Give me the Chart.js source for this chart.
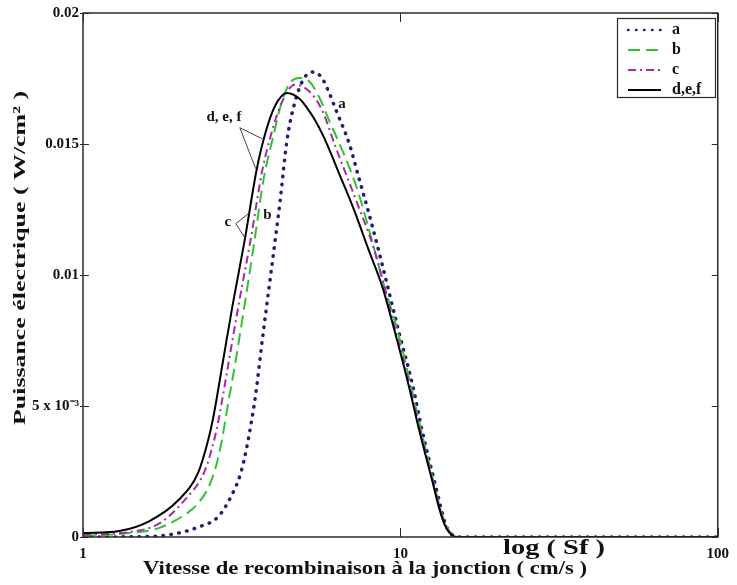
<!DOCTYPE html>
<html>
<head>
<meta charset="utf-8">
<script src="https://cdn.jsdelivr.net/npm/chart.js@4.4.0/dist/chart.umd.min.js"></script>
<style>
html, body { margin: 0; padding: 0; background: #fff; }
#wrap { width: 737px; height: 585px; }
</style>
</head>
<body>
<div id="wrap"><canvas id="chart" width="737" height="585"></canvas></div>
<script>
// values (x: Sf, y: W/cm2)
var xA = [1.00, 1.40, 1.73, 2.00, 2.31, 2.66, 2.92, 3.14, 3.30, 3.50, 3.67, 3.86, 4.03, 4.18, 4.39, 4.62, 4.96, 5.37, 5.73, 5.93, 6.28, 6.90, 7.41, 8.07, 8.86, 9.86, 10.97, 11.70, 12.94, 13.41, 13.90, 14.60, 15.40, 100];
var yA = [0, 0.00001, 0.00004, 0.00015, 0.00038, 0.00076, 0.00152, 0.00244, 0.00358, 0.00545, 0.00750, 0.00956, 0.01131, 0.01284, 0.01512, 0.01646, 0.01749, 0.01775, 0.01741, 0.01703, 0.01627, 0.01501, 0.01368, 0.01208, 0.01017, 0.00789, 0.00571, 0.00408, 0.00190, 0.00114, 0.00046, 0.00008, 0, 0];

var xB = [1.00, 1.40, 1.73, 2.15, 2.31, 2.48, 2.63, 2.74, 2.86, 3.01, 3.18, 3.47, 3.70, 3.98, 4.24, 4.49, 4.79, 5.14, 5.52, 6.06, 6.37, 7.25, 7.90, 8.79, 9.79, 10.82, 11.62, 12.84, 13.31, 13.90, 14.60, 15.40, 100];
var yB = [0.00004, 0.00015, 0.00034, 0.00095, 0.00130, 0.00187, 0.00274, 0.00370, 0.00503, 0.00655, 0.00834, 0.01131, 0.01360, 0.01531, 0.01665, 0.01733, 0.01752, 0.01741, 0.01684, 0.01570, 0.01512, 0.01341, 0.01189, 0.00979, 0.00789, 0.00571, 0.00408, 0.00190, 0.00114, 0.00046, 0.00008, 0, 0];

var xC = [1.00, 1.40, 1.73, 2.09, 2.41, 2.59, 2.68, 2.88, 3.09, 3.37, 3.67, 3.92, 4.21, 4.65, 5.14, 5.64, 6.28, 7.36, 8.25, 9.65, 10.74, 11.54, 12.80, 13.28, 13.85, 14.55, 15.35, 100];
var yC = [0.00008, 0.00019, 0.00050, 0.00141, 0.00248, 0.00370, 0.00453, 0.00670, 0.00884, 0.01131, 0.01398, 0.01539, 0.01653, 0.01726, 0.01703, 0.01634, 0.01482, 0.01265, 0.01101, 0.00789, 0.00571, 0.00408, 0.00190, 0.00114, 0.00046, 0.00008, 0, 0];

var xDEF = [1.00, 1.30, 1.62, 2.00, 2.31, 2.48, 2.57, 2.76, 2.96, 3.23, 3.52, 3.75, 4.03, 4.39, 4.82, 5.05, 5.33, 5.73, 6.51, 7.10, 7.96, 8.79, 9.58, 10.66, 11.46, 12.75, 13.22, 13.80, 14.50, 15.30, 100];
var yDEF = [0.00015, 0.00023, 0.00061, 0.00141, 0.00248, 0.00370, 0.00453, 0.00670, 0.00884, 0.01131, 0.01398, 0.01539, 0.01646, 0.01695, 0.01672, 0.01642, 0.01600, 0.01528, 0.01368, 0.01257, 0.01093, 0.00952, 0.00789, 0.00571, 0.00408, 0.00190, 0.00114, 0.00046, 0.00008, 0, 0];

var xTicks = [1, 10, 100];
var yTicks = [0, 0.005, 0.01, 0.015, 0.02];
var yTickLabels = ["0", "5 x 10\u207B\u00B3", "0.01", "0.015", "0.02"];

// curve labels with their pointer lines, in data units
var notes = [
    { text: "d, e, f", x: 2.78, y: 0.01604, from: [3.12, 0.01562], to: [[3.67, 0.0152], [3.50, 0.01406]] },
    { text: "c", x: 2.86, y: 0.0120, from: [3.03, 0.01196], to: [[3.35, 0.01238], [3.25, 0.01139]] },
    { text: "b", x: 3.81, y: 0.01227 },
    { text: "a", x: 6.55, y: 0.01653 }
];

var serif = "'Liberation Serif', 'Times New Roman', serif";

function points(xs, ys) {
    var out = [];
    for (var i = 0; i < xs.length; i++) {
        out.push({ x: xs[i], y: ys[i] });
    }
    return out;
}

// text stretched along its direction to match the reference width
function stretchedText(ctx, text, x, y, size, width, angle) {
    ctx.save();
    ctx.font = "bold " + size + "px " + serif;
    var w = ctx.measureText(text).width;
    ctx.translate(x, y);
    if (angle) ctx.rotate(angle);
    ctx.scale(width / w, 1);
    ctx.textAlign = "center";
    ctx.textBaseline = "middle";
    ctx.fillText(text, 0, 0);
    ctx.restore();
}

var framePlugin = {
    id: "frame",
    afterDatasetsDraw: function(chart) {
        var ctx = chart.ctx;
        var a = chart.chartArea;
        var xs = chart.scales.x, ys = chart.scales.y;
        ctx.save();
        ctx.strokeStyle = "#2b2b2b";
        ctx.lineWidth = 1.5;
        ctx.strokeRect(a.left, a.top, a.right - a.left, a.bottom - a.top);
        ctx.lineWidth = 1;
        xTicks.forEach(function(v) {
            var px = Math.round(xs.getPixelForValue(v)) + 0.5;
            ctx.beginPath();
            ctx.moveTo(px, a.bottom);
            ctx.lineTo(px, a.bottom - 9);
            ctx.moveTo(px, a.top);
            ctx.lineTo(px, a.top + 9);
            ctx.stroke();
        });
        yTicks.forEach(function(v) {
            var py = Math.round(ys.getPixelForValue(v)) + 0.5;
            ctx.beginPath();
            ctx.moveTo(a.left - 3, py);
            ctx.lineTo(a.left + 6, py);
            ctx.moveTo(a.right, py);
            ctx.lineTo(a.right - 6, py);
            ctx.stroke();
        });

        // curve labels
        ctx.fillStyle = "#111";
        ctx.strokeStyle = "#444";
        ctx.font = "bold 15px " + serif;
        ctx.textAlign = "center";
        ctx.textBaseline = "middle";
        notes.forEach(function(n) {
            ctx.fillText(n.text, xs.getPixelForValue(n.x), ys.getPixelForValue(n.y));
            if (n.from) {
                var fx = xs.getPixelForValue(n.from[0]), fy = ys.getPixelForValue(n.from[1]);
                n.to.forEach(function(t) {
                    ctx.beginPath();
                    ctx.moveTo(fx, fy);
                    ctx.lineTo(xs.getPixelForValue(t[0]), ys.getPixelForValue(t[1]));
                    ctx.stroke();
                });
            }
        });

        // legend box
        var lx = 617, ly = 18, lw = 98, lh = 79;
        ctx.fillStyle = "#fff";
        ctx.fillRect(lx, ly, lw, lh);
        ctx.strokeStyle = "#2b2b2b";
        ctx.lineWidth = 1.2;
        ctx.strokeRect(lx + 0.5, ly + 0.5, lw, lh);
        ctx.textAlign = "left";
        ctx.font = "bold 16px " + serif;
        chart.data.datasets.forEach(function(ds, i) {
            var yy = ly + 12 + i * 20;
            ctx.save();
            ctx.strokeStyle = ds.borderColor;
            ctx.lineWidth = Math.min(ds.borderWidth, 2.5);
            ctx.lineCap = ds.borderCapStyle || "butt";
            ctx.setLineDash(ds.borderDash || []);
            ctx.beginPath();
            ctx.moveTo(lx + 11, yy);
            ctx.lineTo(lx + 44, yy);
            ctx.stroke();
            ctx.restore();
            ctx.fillStyle = "#111";
            ctx.fillText(ds.label, lx + 55, yy);
        });

        // axis titles
        ctx.fillStyle = "#111";
        stretchedText(ctx, "Vitesse de recombinaison \u00E0 la jonction ( cm/s )", 365, 569, 19, 444, 0);
        stretchedText(ctx, "log ( Sf )", 554, 548, 22, 102, 0);
        stretchedText(ctx, "Puissance \u00E9lectrique ( W/cm\u00B2 )", 21, 258, 17, 334, -Math.PI / 2);
        ctx.restore();
    }
};

var chart = new Chart(document.getElementById("chart"), {
    type: "line",
    data: {
        datasets: [
            { label: "a", data: points(xA, yA), borderColor: "#1e1e78", borderWidth: 3.5, borderDash: [0.5, 7.5], borderCapStyle: "round", order: 3 },
            { label: "b", data: points(xB, yB), borderColor: "#2fc42f", borderWidth: 2, borderDash: [12, 6], order: 2 },
            { label: "c", data: points(xC, yC), borderColor: "#a62ca6", borderWidth: 2, borderDash: [8, 4, 2, 4], order: 1 },
            { label: "d,e,f", data: points(xDEF, yDEF), borderColor: "#000000", borderWidth: 2, order: 0 }
        ]
    },
    options: {
        responsive: false,
        animation: false,
        devicePixelRatio: 1,
        layout: { padding: { top: 12, right: 12, left: 0, bottom: 0 } },
        elements: {
            point: { radius: 0 },
            line: { cubicInterpolationMode: "monotone", fill: false }
        },
        plugins: { legend: { display: false }, tooltip: { enabled: false } },
        scales: {
            x: {
                type: "logarithmic",
                min: 1,
                max: 100,
                grid: { display: false, drawTicks: false },
                border: { display: false },
                afterBuildTicks: function(s) { s.ticks = xTicks.map(function(v) { return { value: v }; }); },
                afterFit: function(s) { s.height = 48; },
                ticks: {
                    padding: 8,
                    color: "#111",
                    font: { family: serif, weight: "bold", size: 15 },
                    maxRotation: 0,
                    callback: function(v) { return String(v); }
                }
            },
            y: {
                min: 0,
                max: 0.02,
                grid: { display: false, drawTicks: false },
                border: { display: false },
                afterBuildTicks: function(s) { s.ticks = yTicks.map(function(v) { return { value: v }; }); },
                afterFit: function(s) { s.width = 83; },
                ticks: {
                    padding: 4,
                    color: "#111",
                    font: { family: serif, weight: "bold", size: 15 },
                    callback: function(v) {
                        var i = yTicks.indexOf(v);
                        return i >= 0 ? yTickLabels[i] : "";
                    }
                }
            }
        }
    },
    plugins: [framePlugin]
});
</script>
</body>
</html>
